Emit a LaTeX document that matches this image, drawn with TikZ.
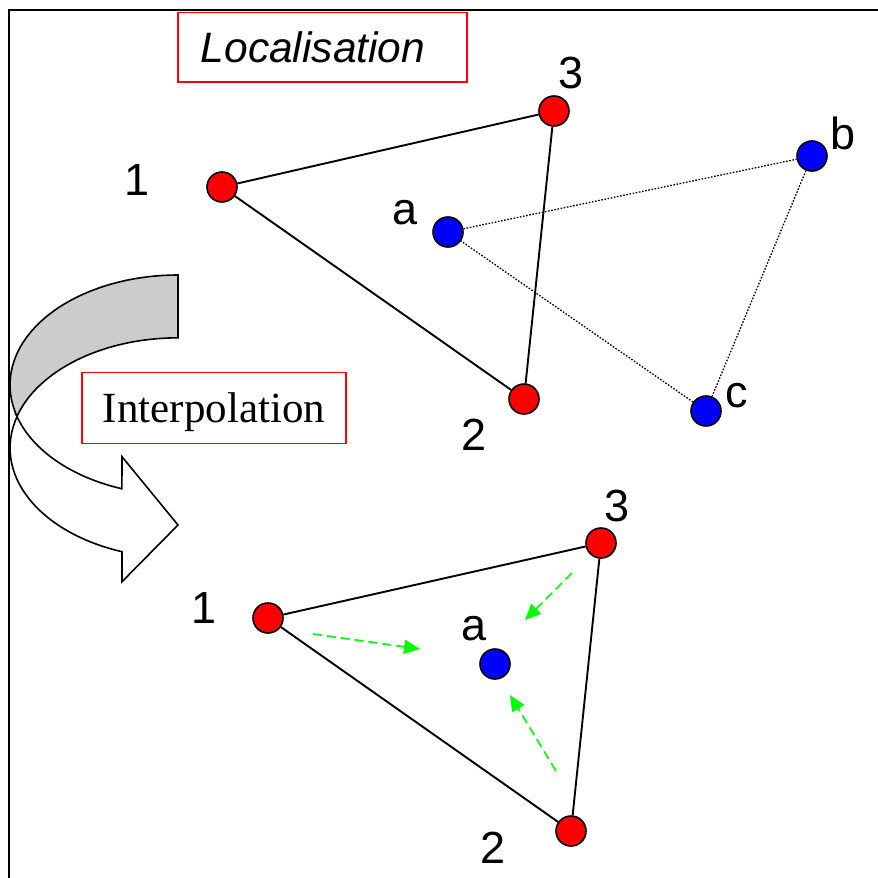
\documentclass[tikz,border=0pt]{standalone}
\usepackage{fontspec}
\setmainfont{Liberation Sans}
\newfontfamily\timesfont{Liberation Serif}
\usepackage{tikz}
\usetikzlibrary{arrows.meta,positioning}
\definecolor{ptred}{RGB}{255,0,0}
\definecolor{ptblue}{RGB}{0,0,255}
\definecolor{flowgreen}{RGB}{0,255,0}
\tikzset{
    redpt/.style={circle,draw=black,line width=1.6pt,fill=ptred,minimum size=30pt,inner sep=0pt},
    bluept/.style={redpt,fill=ptblue},
    lbl/.style={inner sep=0pt,font=\fontsize{45}{50}\selectfont},
    side/.style={line width=1.9pt},
    link/.style={line width=1.3pt,dash pattern=on 1.6pt off 1.6pt},
    flow/.style={flowgreen,line width=1.7pt,dash pattern=on 9pt off 5pt,-{Triangle[length=16pt,width=14pt]}},
    titlebox/.style={draw=ptred,line width=1.5pt,inner ysep=0pt,text depth=0pt}
}

\begin{document}
\begin{tikzpicture}[x=1pt,y=-1pt]
    \useasboundingbox (0,0) rectangle (878,878);
    % Frame
    \draw[line width=1.6pt] (9,878) -- (9,10) -- (878,10);

    % Curved arrow
    \fill[gray!40,draw=black,line width=1.6pt] (178,275)
        arc[start angle=270,end angle=163.4,x radius=168,y radius=110]
        arc[start angle=196.6,end angle=270,x radius=168,y radius=110] -- cycle;
    \fill[white,draw=black,line width=1.6pt] (17,416.5)
        arc[start angle=163.4,end angle=109.5,x radius=168,y radius=110]
        -- (122,456.7) -- (178,525) -- (122,581.7) -- (122,551.7)
        arc[start angle=109.5,end angle=196.6,x radius=168,y radius=110] -- cycle;

    % Titles
    \node[titlebox,anchor=north west,align=left,text width=243pt,inner xsep=23pt,
        minimum height=69.5pt,text height=30.5pt,font=\fontsize{42.5}{50}\selectfont\itshape]
        (loc) at (177,11.5) {Localisation};
    \node[titlebox,inner xsep=0pt,minimum width=264pt,minimum height=71pt,text height=28.5pt,
        font=\timesfont\fontsize{43}{50}\selectfont] (interp) at (214,408) {Interpolation};

    % Localisation step
    \begin{scope}
        \foreach \n/\x/\y in {u1/222/187, u2/524/399, u3/554/111} {
            \node[redpt] (\n) at (\x,\y) {};
        }
        \foreach \n/\x/\y in {ua/448/232, ub/812/156, uc/706/411} {
            \node[bluept] (\n) at (\x,\y) {};
        }
        \draw[side] (u1) -- (u3) -- (u2) -- (u1);
        \draw[link] (ua) -- (ub) -- (uc) -- (ua);

        \node[lbl] (lu1) at (137,180) {1};
        \node[lbl] (lu2) at (474,435) {2};
        \node[lbl] (lu3) at (571,73) {3};
        \node[lbl] (lua) at (405,213) {a};
        \node[lbl] (lub) at (843,133) {b};
        \node[lbl] (luc) at (737,396) {c};
    \end{scope}

    % Interpolation step
    \begin{scope}
        \foreach \n/\x/\y in {d1/268/618, d2/571/831, d3/601/543} {
            \node[redpt] (\n) at (\x,\y) {};
        }
        \node[bluept] (da) at (495,664) {};
        \draw[side] (d1) -- (d3) -- (d2) -- (d1);

        \node[lbl] (ld1) at (204,608) {1};
        \node[lbl] (ld2) at (493,848) {2};
        \node[lbl] (ld3) at (617,506) {3};
        \node[lbl] (lda) at (474,629) {a};

        % Weights
        \coordinate (f1s) at (313,634);
        \coordinate (f1e) at (420,649);
        \coordinate (f3s) at (572,573);
        \coordinate (f3e) at (525,620);
        \coordinate (f2s) at (556,771);
        \coordinate (f2e) at (510,695);
        \draw[flow] (f1s) -- (f1e);
        \draw[flow] (f3s) -- (f3e);
        \draw[flow] (f2s) -- (f2e);
    \end{scope}
\end{tikzpicture}
\end{document}
